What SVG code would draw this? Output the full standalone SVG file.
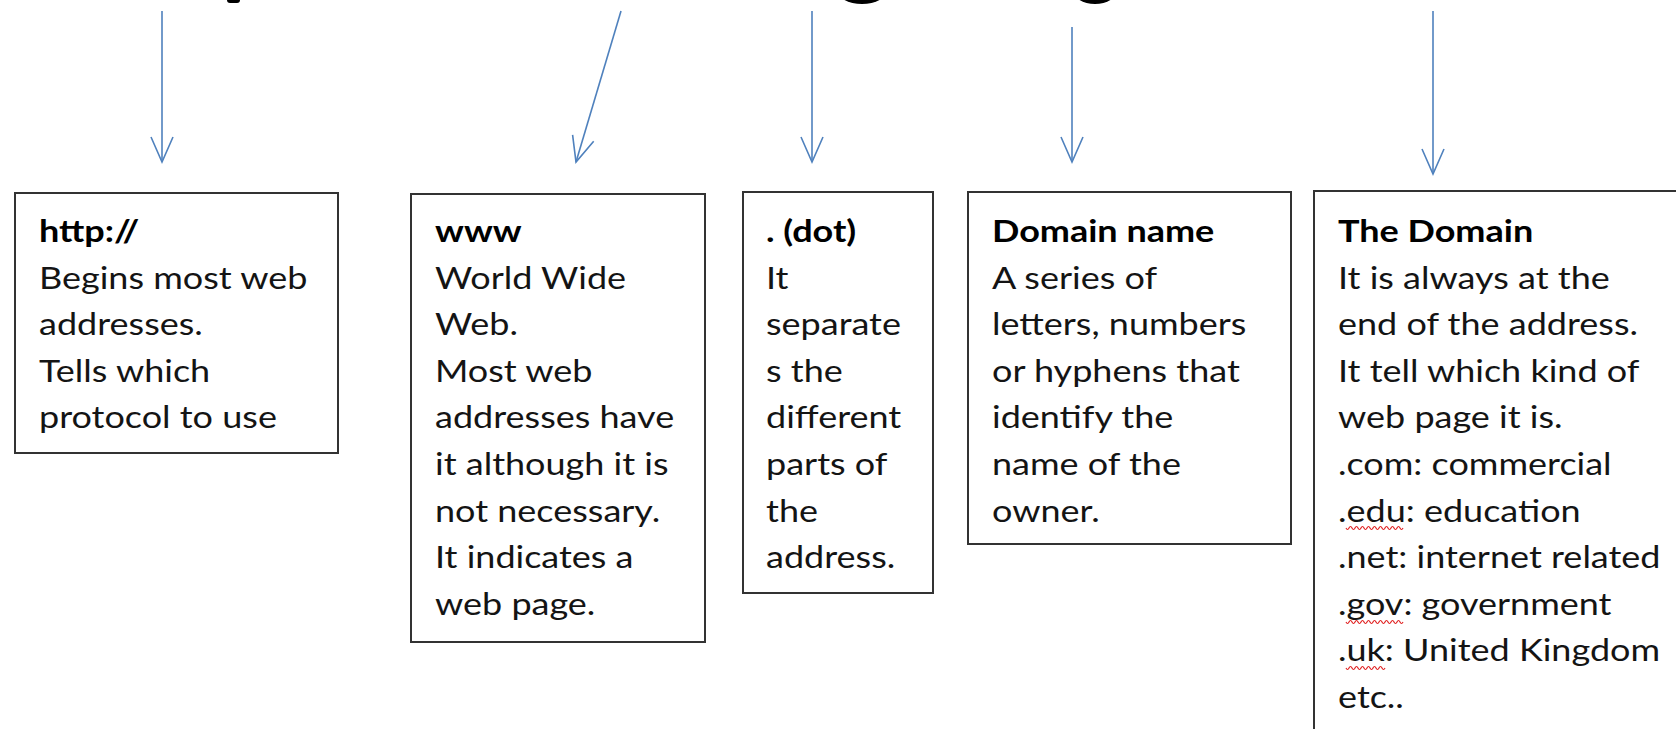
<svg xmlns="http://www.w3.org/2000/svg" width="1676" height="729" viewBox="0 0 1676 729">
<style>
.box{fill:#ffffff;stroke:#333333;stroke-width:2}
.t{font-family:Lato,"Liberation Sans",sans-serif;font-size:30px;fill:#141414}
.h{font-weight:bold;fill:#000000}
.arr{fill:none;stroke:#4f81bd;stroke-width:1.6;marker-end:url(#ah)}
.sq{fill:none;stroke:#e02020;stroke-width:1.2}
</style>
<defs>
<marker id="ah" markerUnits="userSpaceOnUse" markerWidth="30" markerHeight="30" viewBox="-27 -14 30 28" refX="0" refY="0" orient="auto">
<path d="M -25 -11 L 0 0 L -25 11" fill="none" stroke="#4f81bd" stroke-width="1.6"/>
</marker>
</defs>
<rect width="1676" height="729" fill="#ffffff"/>
<g id="title-fragments" fill="#000000">
<rect x="227" y="-4" width="13" height="7" rx="3"/>
<ellipse cx="862" cy="-10" rx="25" ry="14"/>
<ellipse cx="1095" cy="-10" rx="22" ry="14"/>
</g>
<g id="connectors">
<line class="arr" x1="162" y1="11" x2="162" y2="162"/>
<line class="arr" x1="621" y1="11" x2="576" y2="162"/>
<line class="arr" x1="812" y1="11" x2="812" y2="162"/>
<line class="arr" x1="1072" y1="27" x2="1072" y2="162"/>
<line class="arr" x1="1433" y1="11" x2="1433" y2="174"/>
</g>
<g id="node-http">
<rect class="box" x="15" y="193" width="323" height="260"/>
<text class="t" transform="translate(39,242) scale(1.2,1)"><tspan class="h" x="0" y="0">http://</tspan><tspan x="0" dy="46.6">Begins most web</tspan><tspan x="0" dy="46.6">addresses.</tspan><tspan x="0" dy="46.6">Tells which</tspan><tspan x="0" dy="46.6">protocol to use</tspan></text>
</g>
<g id="node-www">
<rect class="box" x="411" y="194" width="294" height="448"/>
<text class="t" transform="translate(435,242) scale(1.2,1)"><tspan class="h" x="0" y="0">www</tspan><tspan x="0" dy="46.6">World Wide</tspan><tspan x="0" dy="46.6">Web.</tspan><tspan x="0" dy="46.6">Most web</tspan><tspan x="0" dy="46.6">addresses have</tspan><tspan x="0" dy="46.6">it although it is</tspan><tspan x="0" dy="46.6">not necessary.</tspan><tspan x="0" dy="46.6">It indicates a</tspan><tspan x="0" dy="46.6">web page.</tspan></text>
</g>
<g id="node-dot">
<rect class="box" x="743" y="192" width="190" height="401"/>
<text class="t" transform="translate(766,242) scale(1.2,1)"><tspan class="h" x="0" y="0">. (dot)</tspan><tspan x="0" dy="46.6">It</tspan><tspan x="0" dy="46.6">separate</tspan><tspan x="0" dy="46.6">s the</tspan><tspan x="0" dy="46.6">different</tspan><tspan x="0" dy="46.6">parts of</tspan><tspan x="0" dy="46.6">the</tspan><tspan x="0" dy="46.6">address.</tspan></text>
</g>
<g id="node-domain-name">
<rect class="box" x="968" y="192" width="323" height="352"/>
<text class="t" transform="translate(992,242) scale(1.2,1)"><tspan class="h" x="0" y="0">Domain name</tspan><tspan x="0" dy="46.6">A series of</tspan><tspan x="0" dy="46.6">letters, numbers</tspan><tspan x="0" dy="46.6">or hyphens that</tspan><tspan x="0" dy="46.6">identify the</tspan><tspan x="0" dy="46.6">name of the</tspan><tspan x="0" dy="46.6">owner.</tspan></text>
</g>
<g id="node-the-domain">
<rect class="box" x="1314" y="191" width="380" height="560"/>
<text class="t" transform="translate(1338,242) scale(1.2,1)"><tspan class="h" x="0" y="0">The Domain</tspan><tspan x="0" dy="46.6">It is always at the</tspan><tspan x="0" dy="46.6">end of the address.</tspan><tspan x="0" dy="46.6">It tell which kind of</tspan><tspan x="0" dy="46.6">web page it is.</tspan><tspan x="0" dy="46.6">.com: commercial</tspan><tspan x="0" dy="46.6">.edu: education</tspan><tspan x="0" dy="46.6">.net: internet related</tspan><tspan x="0" dy="46.6">.gov: government</tspan><tspan x="0" dy="46.6">.uk: United Kingdom</tspan><tspan x="0" dy="46.6">etc..</tspan></text>
<path class="sq" d="M1346,528 q1.5,3 3,0 t3,0 t3,0 t3,0 t3,0 t3,0 t3,0 t3,0 t3,0 t3,0 t3,0 t3,0 t3,0 t3,0 t3,0 t3,0 t3,0 t3,0 t3,0"/>
<path class="sq" d="M1346,622 q1.5,3 3,0 t3,0 t3,0 t3,0 t3,0 t3,0 t3,0 t3,0 t3,0 t3,0 t3,0 t3,0 t3,0 t3,0 t3,0 t3,0 t3,0 t3,0 t3,0"/>
<path class="sq" d="M1346,668 q1.5,3 3,0 t3,0 t3,0 t3,0 t3,0 t3,0 t3,0 t3,0 t3,0 t3,0 t3,0 t3,0 t3,0"/>
</g>
</svg>
